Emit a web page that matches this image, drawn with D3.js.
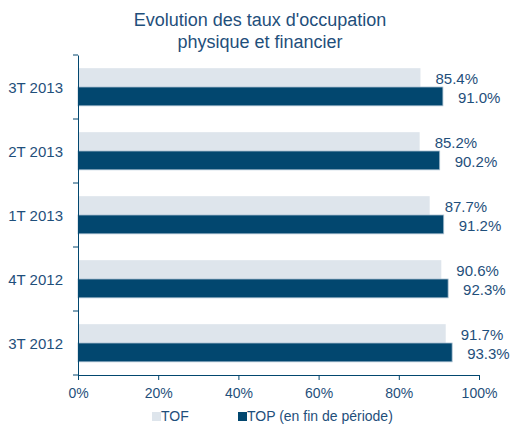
<!DOCTYPE html>
<html><head><meta charset="utf-8">
<script src="https://cdn.jsdelivr.net/npm/d3@7"></script>
<style>
body{margin:0;background:#fff;}
svg{display:block;font-family:"Liberation Sans",Arial,sans-serif;}
</style></head>
<body>
<svg id="c" width="526" height="430"></svg>
<script>
const categories = ["3T 2013","2T 2013","1T 2013","4T 2012","3T 2012"];
const tofValues = [85.4, 85.2, 87.7, 90.6, 91.7];
const topValues = [91.0, 90.2, 91.2, 92.3, 93.3];
const xTicks = [0,20,40,60,80,100];
const seriesNames = ["TOF","TOP (en fin de période)"];
const titleLines = ["Evolution des taux d'occupation","physique et financier"];

const textColor = "#1f4f7b";
const darkColor = "#02476f";
const lightColor = "#dee5ec";

const svg = d3.select("#c");
const m = {left:78, right:47, top:55, bottom:55};
const W = 526, H = 430;
const x = d3.scaleLinear().domain([0,100]).range([m.left, W-m.right]);
const y = d3.scaleBand().domain(categories).range([m.top, H-m.bottom]);
const inner = d3.scaleBand().domain(["tof","top"]).range([0, y.bandwidth()]).paddingInner(0).paddingOuter(0.7);

// title
svg.append("text").attr("x",260).attr("text-anchor","middle").attr("fill",textColor)
  .attr("font-size",18)
  .selectAll("tspan").data(titleLines).join("tspan")
  .attr("x",260).attr("y",(d,i)=>26+i*22).text(d=>d);

const rows = categories.map((c,i)=>({cat:c, tof:tofValues[i], top:topValues[i]}));

const g = svg.append("g");
rows.forEach(r=>{
  const y0 = y(r.cat);
  g.append("rect").attr("x",x(0)).attr("y",y0+inner("tof")).attr("width",x(r.tof)-x(0)).attr("height",inner.bandwidth())
    .attr("fill",lightColor);
  g.append("rect").attr("x",x(0)).attr("y",y0+inner("top")).attr("width",x(r.top)-x(0)).attr("height",inner.bandwidth())
    .attr("fill",darkColor).attr("stroke","#a9bfd0").attr("stroke-width",0.8);
  g.append("text").attr("x",x(r.tof)+15).attr("y",y0+inner("tof")+inner.bandwidth()/2+6)
    .attr("fill",textColor).attr("font-size",15).text(r.tof.toFixed(1)+"%");
  g.append("text").attr("x",x(r.top)+15).attr("y",y0+inner("top")+inner.bandwidth()/2+7)
    .attr("fill",textColor).attr("font-size",15).text(r.top.toFixed(1)+"%");
});

// y axis
const yAxis = svg.append("g").attr("transform",`translate(${m.left},0)`)
  .call(d3.axisLeft(y).tickSize(0).tickPadding(15));
yAxis.select(".domain").attr("stroke",darkColor);
yAxis.selectAll("text").attr("fill",textColor).attr("font-size",15).attr("font-family","Liberation Sans, Arial, sans-serif").attr("dy","0.4em");
// y tick marks at band boundaries
const bounds = categories.map(c=>y(c)).concat([y.range()[1]]);
svg.append("g").selectAll("line").data(bounds).join("line")
  .attr("x1",m.left-5).attr("x2",m.left).attr("y1",d=>d).attr("y2",d=>d).attr("stroke",darkColor);

// x axis
const xAxis = svg.append("g").attr("transform",`translate(0,${H-m.bottom})`)
  .call(d3.axisBottom(x).tickValues(xTicks).tickSize(5).tickPadding(8).tickFormat(d=>d+"%"));
xAxis.select(".domain").attr("stroke",darkColor);
xAxis.selectAll("line").attr("stroke",darkColor);
xAxis.selectAll("text").attr("fill",textColor).attr("font-size",14).attr("font-family","Liberation Sans, Arial, sans-serif");

// legend
const leg = svg.append("g");
const legItems = [{name:seriesNames[0],color:lightColor,x:152},{name:seriesNames[1],color:darkColor,x:238}];
legItems.forEach(l=>{
  leg.append("rect").attr("x",l.x).attr("y",412).attr("width",9).attr("height",9).attr("fill",l.color);
  leg.append("text").attr("x",l.x+9).attr("y",421).attr("fill",textColor).attr("font-size",14).text(l.name);
});
</script>
</body></html>
